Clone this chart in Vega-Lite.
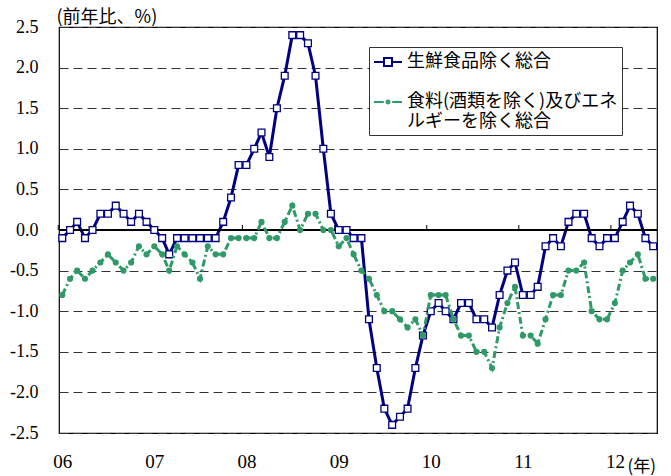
{
  "$schema": "https://vega.github.io/schema/vega-lite/v6.json",
  "width": 598,
  "height": 406,
  "autosize": {"type": "none"},
  "padding": {"left": 59, "top": 27, "right": 14, "bottom": 43},
  "background": "white",
  "config": {
    "view": {"stroke": "black", "strokeWidth": 1.2}
  },
  "datasets": {
    "core": [
      {"month": "2006-01-01", "value": -0.1}, {"month": "2006-02-01", "value": 0.0}, {"month": "2006-03-01", "value": 0.1}, {"month": "2006-04-01", "value": -0.1},
      {"month": "2006-05-01", "value": 0.0}, {"month": "2006-06-01", "value": 0.2}, {"month": "2006-07-01", "value": 0.2}, {"month": "2006-08-01", "value": 0.3},
      {"month": "2006-09-01", "value": 0.2}, {"month": "2006-10-01", "value": 0.1}, {"month": "2006-11-01", "value": 0.2}, {"month": "2006-12-01", "value": 0.1},
      {"month": "2007-01-01", "value": 0.0}, {"month": "2007-02-01", "value": -0.1}, {"month": "2007-03-01", "value": -0.3}, {"month": "2007-04-01", "value": -0.1},
      {"month": "2007-05-01", "value": -0.1}, {"month": "2007-06-01", "value": -0.1}, {"month": "2007-07-01", "value": -0.1}, {"month": "2007-08-01", "value": -0.1},
      {"month": "2007-09-01", "value": -0.1}, {"month": "2007-10-01", "value": 0.1}, {"month": "2007-11-01", "value": 0.4}, {"month": "2007-12-01", "value": 0.8},
      {"month": "2008-01-01", "value": 0.8}, {"month": "2008-02-01", "value": 1.0}, {"month": "2008-03-01", "value": 1.2}, {"month": "2008-04-01", "value": 0.9},
      {"month": "2008-05-01", "value": 1.5}, {"month": "2008-06-01", "value": 1.9}, {"month": "2008-07-01", "value": 2.4}, {"month": "2008-08-01", "value": 2.4},
      {"month": "2008-09-01", "value": 2.3}, {"month": "2008-10-01", "value": 1.9}, {"month": "2008-11-01", "value": 1.0}, {"month": "2008-12-01", "value": 0.2},
      {"month": "2009-01-01", "value": 0.0}, {"month": "2009-02-01", "value": 0.0}, {"month": "2009-03-01", "value": -0.1}, {"month": "2009-04-01", "value": -0.1},
      {"month": "2009-05-01", "value": -1.1}, {"month": "2009-06-01", "value": -1.7}, {"month": "2009-07-01", "value": -2.2}, {"month": "2009-08-01", "value": -2.4},
      {"month": "2009-09-01", "value": -2.3}, {"month": "2009-10-01", "value": -2.2}, {"month": "2009-11-01", "value": -1.7}, {"month": "2009-12-01", "value": -1.3},
      {"month": "2010-01-01", "value": -1.0}, {"month": "2010-02-01", "value": -0.9}, {"month": "2010-03-01", "value": -1.0}, {"month": "2010-04-01", "value": -1.1},
      {"month": "2010-05-01", "value": -0.9}, {"month": "2010-06-01", "value": -0.9}, {"month": "2010-07-01", "value": -1.1}, {"month": "2010-08-01", "value": -1.1},
      {"month": "2010-09-01", "value": -1.2}, {"month": "2010-10-01", "value": -0.8}, {"month": "2010-11-01", "value": -0.5}, {"month": "2010-12-01", "value": -0.4},
      {"month": "2011-01-01", "value": -0.8}, {"month": "2011-02-01", "value": -0.8}, {"month": "2011-03-01", "value": -0.7}, {"month": "2011-04-01", "value": -0.2},
      {"month": "2011-05-01", "value": -0.1}, {"month": "2011-06-01", "value": -0.2}, {"month": "2011-07-01", "value": 0.1}, {"month": "2011-08-01", "value": 0.2},
      {"month": "2011-09-01", "value": 0.2}, {"month": "2011-10-01", "value": -0.1}, {"month": "2011-11-01", "value": -0.2}, {"month": "2011-12-01", "value": -0.1},
      {"month": "2012-01-01", "value": -0.1}, {"month": "2012-02-01", "value": 0.1}, {"month": "2012-03-01", "value": 0.3}, {"month": "2012-04-01", "value": 0.2},
      {"month": "2012-05-01", "value": -0.1}, {"month": "2012-06-01", "value": -0.2}
    ],
    "corecore": [
      {"month": "2006-01-01", "value": -0.8}, {"month": "2006-02-01", "value": -0.6}, {"month": "2006-03-01", "value": -0.5}, {"month": "2006-04-01", "value": -0.6},
      {"month": "2006-05-01", "value": -0.5}, {"month": "2006-06-01", "value": -0.4}, {"month": "2006-07-01", "value": -0.3}, {"month": "2006-08-01", "value": -0.4},
      {"month": "2006-09-01", "value": -0.5}, {"month": "2006-10-01", "value": -0.4}, {"month": "2006-11-01", "value": -0.2}, {"month": "2006-12-01", "value": -0.3},
      {"month": "2007-01-01", "value": -0.2}, {"month": "2007-02-01", "value": -0.3}, {"month": "2007-03-01", "value": -0.5}, {"month": "2007-04-01", "value": -0.2},
      {"month": "2007-05-01", "value": -0.3}, {"month": "2007-06-01", "value": -0.4}, {"month": "2007-07-01", "value": -0.6}, {"month": "2007-08-01", "value": -0.2},
      {"month": "2007-09-01", "value": -0.3}, {"month": "2007-10-01", "value": -0.3}, {"month": "2007-11-01", "value": -0.1}, {"month": "2007-12-01", "value": -0.1},
      {"month": "2008-01-01", "value": -0.1}, {"month": "2008-02-01", "value": -0.1}, {"month": "2008-03-01", "value": 0.1}, {"month": "2008-04-01", "value": -0.1},
      {"month": "2008-05-01", "value": -0.1}, {"month": "2008-06-01", "value": 0.1}, {"month": "2008-07-01", "value": 0.3}, {"month": "2008-08-01", "value": 0.0},
      {"month": "2008-09-01", "value": 0.2}, {"month": "2008-10-01", "value": 0.2}, {"month": "2008-11-01", "value": 0.0}, {"month": "2008-12-01", "value": 0.0},
      {"month": "2009-01-01", "value": -0.2}, {"month": "2009-02-01", "value": -0.1}, {"month": "2009-03-01", "value": -0.3}, {"month": "2009-04-01", "value": -0.5},
      {"month": "2009-05-01", "value": -0.6}, {"month": "2009-06-01", "value": -0.8}, {"month": "2009-07-01", "value": -1.0}, {"month": "2009-08-01", "value": -1.0},
      {"month": "2009-09-01", "value": -1.1}, {"month": "2009-10-01", "value": -1.2}, {"month": "2009-11-01", "value": -1.1}, {"month": "2009-12-01", "value": -1.3},
      {"month": "2010-01-01", "value": -0.8}, {"month": "2010-02-01", "value": -0.8}, {"month": "2010-03-01", "value": -0.8}, {"month": "2010-04-01", "value": -1.1},
      {"month": "2010-05-01", "value": -1.3}, {"month": "2010-06-01", "value": -1.3}, {"month": "2010-07-01", "value": -1.5}, {"month": "2010-08-01", "value": -1.5},
      {"month": "2010-09-01", "value": -1.7}, {"month": "2010-10-01", "value": -1.2}, {"month": "2010-11-01", "value": -0.9}, {"month": "2010-12-01", "value": -0.7},
      {"month": "2011-01-01", "value": -1.3}, {"month": "2011-02-01", "value": -1.3}, {"month": "2011-03-01", "value": -1.4}, {"month": "2011-04-01", "value": -1.1},
      {"month": "2011-05-01", "value": -0.8}, {"month": "2011-06-01", "value": -0.8}, {"month": "2011-07-01", "value": -0.5}, {"month": "2011-08-01", "value": -0.5},
      {"month": "2011-09-01", "value": -0.4}, {"month": "2011-10-01", "value": -1.0}, {"month": "2011-11-01", "value": -1.1}, {"month": "2011-12-01", "value": -1.1},
      {"month": "2012-01-01", "value": -0.9}, {"month": "2012-02-01", "value": -0.5}, {"month": "2012-03-01", "value": -0.4}, {"month": "2012-04-01", "value": -0.3},
      {"month": "2012-05-01", "value": -0.6}, {"month": "2012-06-01", "value": -0.6}
    ],
    "years": [
      {"year": "2006-01-01"}, {"year": "2007-01-01"}, {"year": "2008-01-01"}, {"year": "2009-01-01"},
      {"year": "2010-01-01"}, {"year": "2011-01-01"}, {"year": "2012-01-01"}
    ],
    "series": [
      {"series": "生鮮食品除く総合"},
      {"series": "食料(酒類を除く)及びエネルギーを除く総合"}
    ]
  },
  "layer": [
    {
      "data": {"name": "core"},
      "mark": {"type": "line", "color": "#000080", "strokeWidth": 3},
      "encoding": {
        "x": {
          "field": "month", "type": "temporal",
          "scale": {"type": "utc", "domain": [{"year": 2005, "month": 12, "date": 19, "utc": true}, {"year": 2012, "month": 6, "date": 16, "utc": true}]},
          "axis": {
            "title": "(年)",
            "values": [{"year": 2006, "month": 1, "date": 1, "utc": true}, {"year": 2007, "month": 1, "date": 1, "utc": true}, {"year": 2008, "month": 1, "date": 1, "utc": true}, {"year": 2009, "month": 1, "date": 1, "utc": true}, {"year": 2010, "month": 1, "date": 1, "utc": true}, {"year": 2011, "month": 1, "date": 1, "utc": true}, {"year": 2012, "month": 1, "date": 1, "utc": true}],
            "labelExpr": "utcFormat(datum.value, '%y')",
            "grid": false, "domain": false, "ticks": false,
            "labelPadding": 19, "labelFont": "Liberation Serif", "labelFontSize": 19, "labelColor": "black",
            "labelFlush": false, "labelOverlap": false,
            "titleFont": "Noto Sans CJK JP", "titleFontSize": 17, "titleFontWeight": "normal", "titleColor": "black",
            "titleX": 568, "titleY": 33, "titleAlign": "left", "titleBaseline": "middle"
          }
        },
        "y": {
          "field": "value", "type": "quantitative",
          "scale": {"domain": [-2.5, 2.5], "nice": false, "zero": false},
          "axis": {
            "title": "(前年比、%)",
            "titleAngle": 0, "titleX": -3, "titleY": -10, "titleAlign": "left", "titleBaseline": "middle",
            "titleFont": "Noto Sans CJK JP", "titleFontSize": 18, "titleFontWeight": "normal", "titleColor": "black",
            "values": [-2.5, -2, -1.5, -1, -0.5, 0, 0.5, 1, 1.5, 2, 2.5],
            "labelExpr": "datum.value < 0 ? '-' + format(-datum.value, '.1f') : format(datum.value, '.1f')",
            "grid": true, "gridDash": [9, 5], "gridColor": "#333", "gridWidth": 1,
            "domain": false, "ticks": false, "labelPadding": 21,
            "labelFont": "Liberation Serif", "labelFontSize": 18, "labelColor": "black"
          }
        }
      }
    },
    {
      "data": {"name": "years"},
      "mark": {"type": "rule", "color": "black", "strokeWidth": 1.5},
      "encoding": {
        "y": {"datum": 0}
      }
    },
    {
      "data": {"name": "years"},
      "mark": {"type": "rule", "color": "black", "strokeWidth": 1, "xOffset": -4},
      "encoding": {
        "x": {"field": "year", "type": "temporal"},
        "y": {"datum": 0},
        "y2": {"datum": 0.062}
      }
    },
    {
      "data": {"name": "core"},
      "mark": {"type": "point", "shape": "square", "size": 46, "filled": true, "fill": "white", "stroke": "#000080", "strokeWidth": 1.3, "opacity": 1},
      "encoding": {
        "x": {"field": "month", "type": "temporal"},
        "y": {"field": "value", "type": "quantitative"}
      }
    },
    {
      "data": {"name": "corecore"},
      "mark": {"type": "line", "color": "#2F9A68", "strokeWidth": 3, "strokeDash": [7, 3, 2, 3]},
      "encoding": {
        "x": {"field": "month", "type": "temporal"},
        "y": {"field": "value", "type": "quantitative"}
      }
    },
    {
      "data": {"name": "corecore"},
      "mark": {"type": "point", "shape": "circle", "size": 38, "filled": true, "color": "#2F9A68", "opacity": 1},
      "encoding": {
        "x": {"field": "month", "type": "temporal"},
        "y": {"field": "value", "type": "quantitative"}
      }
    },
    {
      "data": {"name": "series"},
      "mark": {"type": "point", "opacity": 0, "filled": true, "strokeWidth": 2},
      "encoding": {
        "color": {
          "field": "series", "type": "nominal",
          "scale": {"domain": ["生鮮食品除く総合", "食料(酒類を除く)及びエネルギーを除く総合"], "range": ["white", "#2F9A68"]}
        },
        "stroke": {
          "field": "series", "type": "nominal",
          "scale": {"domain": ["生鮮食品除く総合", "食料(酒類を除く)及びエネルギーを除く総合"], "range": ["#000080", "#2F9A68"]}
        },
        "shape": {
          "field": "series", "type": "nominal",
          "scale": {
            "domain": ["生鮮食品除く総合", "食料(酒類を除く)及びエネルギーを除く総合"],
            "range": ["M-1.4,0H-0.42M0.42,0H1.4M-0.4,-0.4H0.4V0.4H-0.4Z", "M-1.4,0H-0.42M0.42,0H1.4M-0.15,0A0.15,0.15,0,1,0,0.15,0A0.15,0.15,0,1,0,-0.15,0Z"]
          },
          "legend": {
            "title": null,
            "orient": "none", "legendX": 310, "legendY": 20,
            "strokeColor": "#333", "fillColor": "white", "padding": 4, "cornerRadius": 0,
            "symbolSize": 400, "symbolStrokeWidth": 2, "symbolOffset": 4,
            "labelFont": "Noto Sans CJK JP", "labelFontSize": 18, "labelColor": "black", "labelLimit": 400, "labelOffset": 8,
            "rowPadding": 20,
            "labelExpr": "datum.label == '食料(酒類を除く)及びエネルギーを除く総合' ? ['食料(酒類を除く)及びエネ', 'ルギーを除く総合'] : datum.label",
            "encode": {"symbols": {"update": {"opacity": {"value": 1}}}}
          }
        }
      }
    }
  ]
}
